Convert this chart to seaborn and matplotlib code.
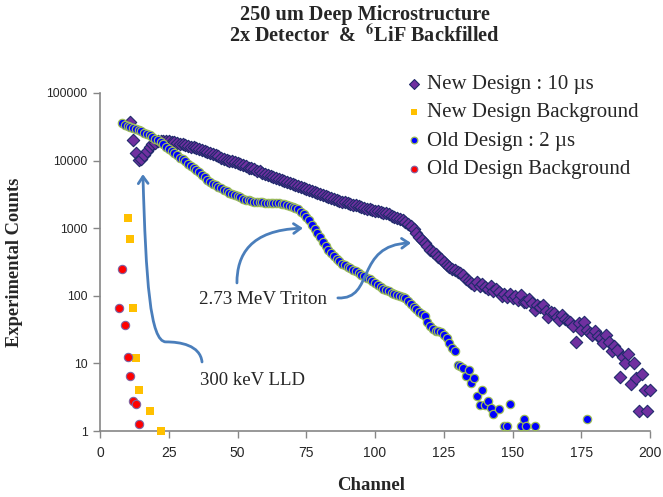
import matplotlib
matplotlib.use("Agg")
import matplotlib.pyplot as plt
import seaborn as sns
import pandas as pd
from matplotlib.path import Path
from matplotlib.patches import FancyArrowPatch

# ---------------- data ----------------
new_ch = list(range(11, 201))
new_counts = [
    37000, 20000, 13000, 10200, 10500, 12000, 14000, 16000, 17500, 18500,
    19200, 19600, 19800, 19700, 19400, 19100, 18700, 18300, 17900, 17500,
    17000, 16600, 16100, 15700, 15200, 14800, 14300, 13900, 13400, 12900,
    12400, 11900, 11500, 11100, 10700, 10300, 10000, 9700, 9400, 9100,
    8800, 8500, 8200, 7900, 7700, 7400, 7100, 6900, 6600, 6400,
    6100, 5900, 5700, 5500, 5300, 5150, 5000, 4800, 4650, 4500,
    4350, 4200, 4050, 3900, 3800, 3650, 3550, 3400, 3300, 3200,
    3100, 3000, 2900, 2800, 2720, 2640, 2560, 2480, 2420, 2360,
    2300, 2240, 2180, 2120, 2060, 2000, 1950, 1900, 1860, 1820,
    1780, 1740, 1700, 1650, 1600, 1540, 1480, 1420, 1360, 1300,
    1230, 1170, 1090, 960, 850, 750, 670, 600, 540, 480,
    440, 410, 380, 350, 320, 290, 265, 250, 240, 228,
    215, 200, 180, 165, 155, 145, 160, 140, 150, 135,
    128, 140, 118, 125, 112, 100, 108, 95, 105, 92,
    98, 88, 103, 82, 80, 90, 77, 62, 73, 68,
    74, 60, 49, 58, 55, 48, 44, 52, 46, 42,
    41, 36, 21, 39, 31, 41, 31, 28, 26, 30,
    25, 24, 20, 26, 21, 15, 18, 16, 6.2, 12.6,
    10, 14, 5, 10, 6, 2, 7, 4, 2, 4,
]

new_bg_ch = [10, 11, 12, 13, 14, 18, 22]
new_bg_counts = [1400, 700, 66, 12, 4.1, 2.0, 1.0]

old_ch = list(range(8, 137)) + [137, 138, 139, 140, 141, 142, 143, 145, 147,
                                148, 149, 153, 154, 155, 158, 177]
old_counts = [
    36000, 33500, 32000, 31000, 30000, 29000, 28000, 27000, 26000, 25000,
    24000, 22500, 21000, 20000, 19000, 17500, 16000, 15000, 14000, 13000,
    12000, 11000, 10400, 9700, 9000, 8400, 7800, 7200, 6700, 6200,
    5700, 5200, 4800, 4500, 4300, 4100, 3900, 3700, 3500, 3350,
    3200, 3050, 2950, 2850, 2750, 2650, 2580, 2520, 2480, 2450,
    2420, 2400, 2390, 2380, 2370, 2360, 2340, 2320, 2290, 2250,
    2200, 2150, 2080, 2000, 1900, 1750, 1600, 1450, 1300, 1130,
    980, 850, 730, 620, 540, 480, 430, 390, 355, 325,
    300, 285, 270, 255, 240, 230, 215, 205, 195, 185,
    175, 165, 155, 145, 136, 128, 122, 116, 110, 106,
    102, 99, 96, 92, 85, 76, 69, 63, 58, 54,
    50, 41, 36, 32, 30, 30, 29, 26, 24, 20,
    17, 15.5, 9.5, 9, 8.5, 6.5, 8, 5.2, 6,
    3.3, 2.4, 4, 2.4, 2.8, 2.2, 1.8, 2.1, 1.2,
    1.2, 2.5, 1.2, 1.5, 1.2, 1.2, 1.5,
]

old_bg_ch = [7, 8, 9, 10, 11, 12, 13, 14]
old_bg_counts = [66, 250, 37, 12.6, 6.5, 2.8, 2.5, 1.26]

labels = ["New Design : 10 \u00b5s", "New Design Background",
          "Old Design : 2 \u00b5s", "Old Design Background"]
x_ticks = [0, 25, 50, 75, 100, 125, 150, 175, 200]
y_ticks = [1, 10, 100, 1000, 10000, 100000]
y_tick_labels = ["1", "10", "100", "1000", "10000", "100000"]

# ---------------- style ----------------
sns.set_style("ticks")
plt.rcParams["font.family"] = ["Liberation Serif", "DejaVu Serif"]
plt.rcParams["mathtext.fontset"] = "stix"

fig = plt.figure(figsize=(6.63, 4.97), dpi=100)
ax = fig.add_axes([100 / 663, 1 - 431 / 497, 550 / 663, 338 / 497])

df_new = pd.DataFrame({"ch": new_ch, "counts": new_counts})
df_nbg = pd.DataFrame({"ch": new_bg_ch, "counts": new_bg_counts})
df_old = pd.DataFrame({"ch": old_ch, "counts": old_counts})
df_obg = pd.DataFrame({"ch": old_bg_ch, "counts": old_bg_counts})

sns.scatterplot(data=df_new, x="ch", y="counts", marker="D", s=40,
                color="#7030A0", edgecolor="#1F2A6B", linewidth=0.8,
                label=labels[0], ax=ax, zorder=3, clip_on=False)
sns.scatterplot(data=df_nbg, x="ch", y="counts", marker="s", s=32,
                color="#FFC000", edgecolor="#FFC000", linewidth=0,
                label=labels[1], ax=ax, zorder=4, clip_on=False)
sns.scatterplot(data=df_old, x="ch", y="counts", marker="o", s=36,
                color="#0000FF", edgecolor="#9BBB59", linewidth=0.9,
                label=labels[2], ax=ax, zorder=5, clip_on=False)
sns.scatterplot(data=df_obg, x="ch", y="counts", marker="o", s=36,
                color="#FF0000", edgecolor="#8064A2", linewidth=0.8,
                label=labels[3], ax=ax, zorder=6, clip_on=False)

ax.set_yscale("log")
ax.set_xlim(0, 200)
ax.set_ylim(1, 100000)
ax.set_xticks(x_ticks)
ax.set_xticklabels([str(t) for t in x_ticks])
ax.set_yticks(y_ticks)
ax.set_yticklabels(y_tick_labels)
ax.yaxis.set_minor_locator(matplotlib.ticker.NullLocator())
for lab in ax.get_xticklabels():
    lab.set_fontfamily(["Liberation Sans", "DejaVu Sans"])
    lab.set_fontsize(10)
for lab in ax.get_yticklabels():
    lab.set_fontfamily(["Liberation Sans", "DejaVu Sans"])
    lab.set_fontsize(8.8)
ax.tick_params(axis="x", length=5, width=1, color="#868686", pad=6)
ax.tick_params(axis="y", length=5, width=1, color="#868686", pad=4)
for side in ["top", "right"]:
    ax.spines[side].set_visible(False)
for side in ["left", "bottom"]:
    ax.spines[side].set_color("#868686")
    ax.spines[side].set_linewidth(1.2)

ax.set_xlabel("")
ax.set_ylabel("")
fig.text(371 / 663, 1 - 485 / 497, "Channel", ha="center", va="center",
         fontsize=13.5, fontweight="bold")
fig.text(15 / 663, 1 - 262 / 497, "Experimental Counts", ha="center",
         va="center", rotation=90, fontsize=13.3, fontweight="bold")

fig.text(365 / 663, 1 - 15 / 497, "250 um Deep Microstructure",
         ha="center", va="center", fontsize=14.6, fontweight="bold")
fig.text(365 / 663, 1 - 37 / 497,
         r"2x Detector  &  $^{\mathbf{6}}$LiF Backfilled",
         ha="center", va="center", fontsize=14.6, fontweight="bold")

leg = ax.legend(loc="upper left", bbox_to_anchor=(397 / 663, 1 - 64 / 497),
                bbox_transform=fig.transFigure, frameon=False, fontsize=15,
                handlelength=0.6, handletextpad=0.35, borderpad=0,
                labelspacing=0.42, markerscale=0.8)

# ---------------- annotations ----------------
arrow_color = "#4A7EBB"
ax.text(36.0, 87, "2.73 MeV Triton", fontsize=13.7, ha="left", va="center")
ax.text(36.4, 5.5, "300 keV LLD", fontsize=13.5, ha="left", va="center")

arrow_paths = [
    [(37.1, 10.5), (36.4, 18.7), (29.1, 20.8), (24.0, 20.8),
     (18.2, 20.8), (16.7, 170), (15.6, 6300)],
    [(49.8, 155), (49.8, 400), (54.5, 940), (73.8, 1000)],
    [(86.5, 93), (100, 87), (92.7, 565), (113.1, 605)],
]
for verts in arrow_paths:
    codes = [Path.MOVETO] + [Path.CURVE4] * (len(verts) - 1)
    p = FancyArrowPatch(path=Path(verts, codes),
                        arrowstyle="->,head_length=5,head_width=3.5",
                        color=arrow_color, lw=2.0, transform=ax.transData,
                        zorder=7)
    ax.add_patch(p)

fig.savefig("out.png", dpi=100)
